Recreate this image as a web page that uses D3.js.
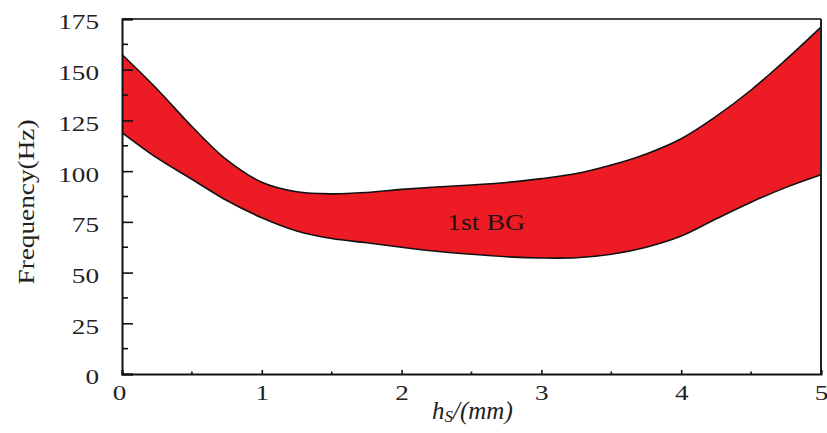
<!DOCTYPE html>
<html><head><meta charset="utf-8">
<script src="https://cdn.jsdelivr.net/npm/d3@7"></script>
<style>body{margin:0;background:#fff;} text{font-family:"Liberation Serif","Times New Roman",serif;fill:#222;}</style>
</head><body>
<svg id="c" width="827" height="433"></svg>
<script>
const xs = [0,0.25,0.5,0.75,1,1.25,1.5,1.75,2,2.25,2.5,2.75,3,3.25,3.5,3.75,4,4.25,4.5,4.75,5];
const upper = [157.5,140.5,122,105.5,94.5,89.8,88.8,89.5,91,92.2,93.2,94.4,96.3,98.8,103,108.5,116,127,140,155,171];
const lower = [119,106.5,96,85.5,77,70.5,66.8,64.7,62.5,60.5,59,57.8,57.2,57.3,59,62.5,68,76.5,84.7,92,98.2];
const xTicks = [0,1,2,3,4,5];
const yTicks = [0,25,50,75,100,125,150,175];
const bandLabel = "1st BG";

const svg = d3.select("#c");
const L=122, R=821, T=19, B=374;
const x = d3.scaleLinear().domain([0,5]).range([L,R]);
const y = d3.scaleLinear().domain([0,175]).range([B,T]);
const data = xs.map((v,i)=>({x:v,u:upper[i],l:lower[i]}));
const cv = d3.curveCatmullRom.alpha(0.5);

const area = d3.area().x(d=>x(d.x)).y0(d=>y(d.l)).y1(d=>y(d.u)).curve(cv);
svg.append("path").datum(data).attr("d",area).attr("fill","#ed1c24");
const lu = d3.line().x(d=>x(d.x)).y(d=>y(d.u)).curve(cv);
const ll = d3.line().x(d=>x(d.x)).y(d=>y(d.l)).curve(cv);
svg.append("path").datum(data).attr("d",lu).attr("fill","none").attr("stroke","#111").attr("stroke-width",1.6);
svg.append("path").datum(data).attr("d",ll).attr("fill","none").attr("stroke","#111").attr("stroke-width",1.6);

// box
svg.append("line").attr("x1",L).attr("x2",R).attr("y1",T).attr("y2",T).attr("stroke","#444").attr("stroke-width",2);
svg.append("line").attr("x1",R).attr("x2",R).attr("y1",T).attr("y2",B).attr("stroke","#222").attr("stroke-width",2);

// y axis
const ya = d3.axisLeft(y).tickValues(yTicks).tickSize(-11).tickPadding(0).tickFormat(d3.format("d"));
const yg = svg.append("g").attr("transform",`translate(${L},0)`).call(ya);
yg.select(".domain").attr("stroke","#111").attr("stroke-width",2);
yg.selectAll(".tick line").attr("stroke","#111").attr("stroke-width",1.6);
yg.selectAll(".tick text").attr("x",-23).attr("dy","0.45em").attr("font-size",22)
  .attr("text-anchor","end").style("fill","#222")
  .each(function(d){const s=String(d);d3.select(this).attr("textLength",s.length*13.6).attr("lengthAdjust","spacingAndGlyphs");});
const yMinor = d3.range(12.5,175,25);
svg.append("g").selectAll("line").data(yMinor).join("line")
  .attr("x1",L).attr("x2",L+6).attr("y1",d=>y(d)).attr("y2",d=>y(d)).attr("stroke","#111").attr("stroke-width",1.6);

// x axis
const xa = d3.axisBottom(x).tickValues(xTicks).tickSize(-4).tickPadding(0).tickFormat(d3.format("d"));
const xg = svg.append("g").attr("transform",`translate(0,${B})`).call(xa);
xg.select(".domain").attr("stroke","#111").attr("stroke-width",2);
xg.selectAll(".tick line").attr("stroke","#111").attr("stroke-width",1.6);
xg.selectAll(".tick text").attr("y",26).attr("dy",0).attr("font-size",22).style("fill","#222")
  .attr("textLength",13.6).attr("lengthAdjust","spacingAndGlyphs");
xg.selectAll(".tick").filter(d=>d===0).select("text").attr("x",-3);
const xMinor = d3.range(0.5,5,1);
svg.append("g").selectAll("line").data(xMinor).join("line")
  .attr("x1",d=>x(d)).attr("x2",d=>x(d)).attr("y1",B).attr("y2",B-2.5).attr("stroke","#111").attr("stroke-width",1.6);

// titles
svg.append("text").attr("transform","translate(34,202) rotate(-90)").attr("text-anchor","middle")
  .attr("font-size",23).attr("textLength",165).attr("lengthAdjust","spacingAndGlyphs").text("Frequency(Hz)");
const xt = svg.append("text").attr("x",432).attr("y",419).attr("font-style","italic").attr("font-size",25);
xt.append("tspan").text("h");
xt.append("tspan").attr("font-size",17).attr("dy",3).text("S");
xt.append("tspan").attr("dy",-3).text("/(mm)");

svg.append("text").attr("x",447).attr("y",230).attr("font-size",23)
  .attr("textLength",78).attr("lengthAdjust","spacingAndGlyphs").style("fill","#2a1010").text(bandLabel);
</script>
</body></html>
